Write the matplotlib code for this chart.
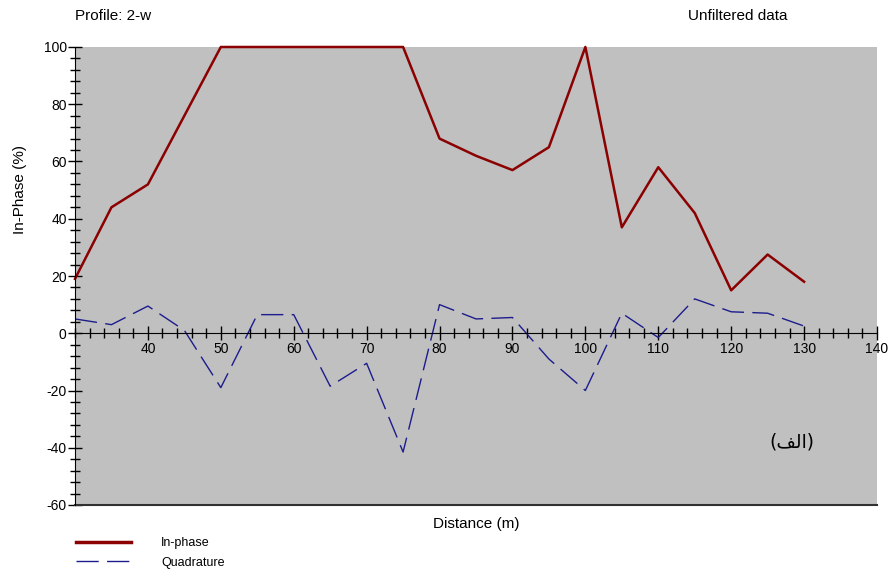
import numpy as np
import matplotlib.pyplot as plt
from matplotlib.ticker import MultipleLocator

plt.rcParams['font.family'] = ['Liberation Sans', 'DejaVu Sans']
plt.rcParams['lines.scale_dashes'] = False
plt.rcParams['axes.unicode_minus'] = False

# profile readings, one every 5 m
distance = [30, 35, 40, 45, 50, 55, 60, 65, 70, 75, 80, 85, 90, 95, 100,
            105, 110, 115, 120, 125, 130]
in_phase = [19, 44, 52, 76, 100, 100, 100, 100, 100, 100, 68, 62, 57, 65, 100,
            37, 58, 42, 15, 27.5, 18]
quadrature = [5, 3, 9.5, 1, -19, 6.5, 6.5, -18.5, -10.5, -41.5, 10, 5, 5.5, -9, -20,
              7, -1.5, 12, 7.5, 7, 2.5]

xticks = [40, 50, 60, 70, 80, 90, 100, 110, 120, 130, 140]
yticks = [-60, -40, -20, 0, 20, 40, 60, 80, 100]

fig = plt.figure(figsize=(8.89, 5.75), dpi=100)
ax = fig.add_axes([75 / 889, 1 - 505 / 575, 802 / 889, 458 / 575])
ax.set_facecolor('#c0c0c0')

ax.plot(distance, in_phase, color='#8b0000', lw=1.8, label='In-phase', clip_on=False)
ax.plot(distance, quadrature, color='#1c1c8c', lw=1.0, dashes=(16, 6), label='Quadrature')

ax.set_xlim(30, 140)
ax.set_ylim(-60, 100)

# x axis drawn through zero, frame line kept at the bottom
ax.spines['bottom'].set_position(('data', 0))
ax.spines['top'].set_visible(False)
ax.spines['right'].set_visible(False)
ax.axhline(-60, color='#303030', lw=1.5, clip_on=False)

ax.set_xticks(xticks)
ax.xaxis.set_minor_locator(MultipleLocator(2))
ax.set_yticks(yticks)
ax.yaxis.set_minor_locator(MultipleLocator(4))
ax.tick_params(which='major', direction='inout', length=10, width=1, labelsize=10, pad=1)
ax.tick_params(which='minor', direction='inout', length=7, width=1)

ax.set_xlabel('Distance (m)', fontsize=11)
ax.xaxis.set_label_coords(0.5, -0.027)
ax.set_ylabel('In-Phase (%)', fontsize=11)
ax.yaxis.set_label_coords(-0.06, 0.688)

fig.text(75 / 889, 1 - 16 / 575, 'Profile: 2-w', fontsize=11, va='center', ha='left')
fig.text(738 / 889, 1 - 16 / 575, 'Unfiltered data', fontsize=11, va='center', ha='center')

# "(الف)" in presentation forms, laid out left to right
ax.text(0.894, 0.138, '(\ufed2\ufedf\ufe8d)', transform=ax.transAxes, fontsize=13.5,
        family=['DejaVu Sans'], ha='center', va='center')

leg = fig.legend(loc='upper left', bbox_to_anchor=(65 / 889, 1 - 526 / 575), frameon=False,
                 fontsize=9, handlelength=4.4, handletextpad=2.4, labelspacing=0.6)
leg.get_lines()[0].set_linewidth(2.5)

fig.savefig('out.png', dpi=100)
